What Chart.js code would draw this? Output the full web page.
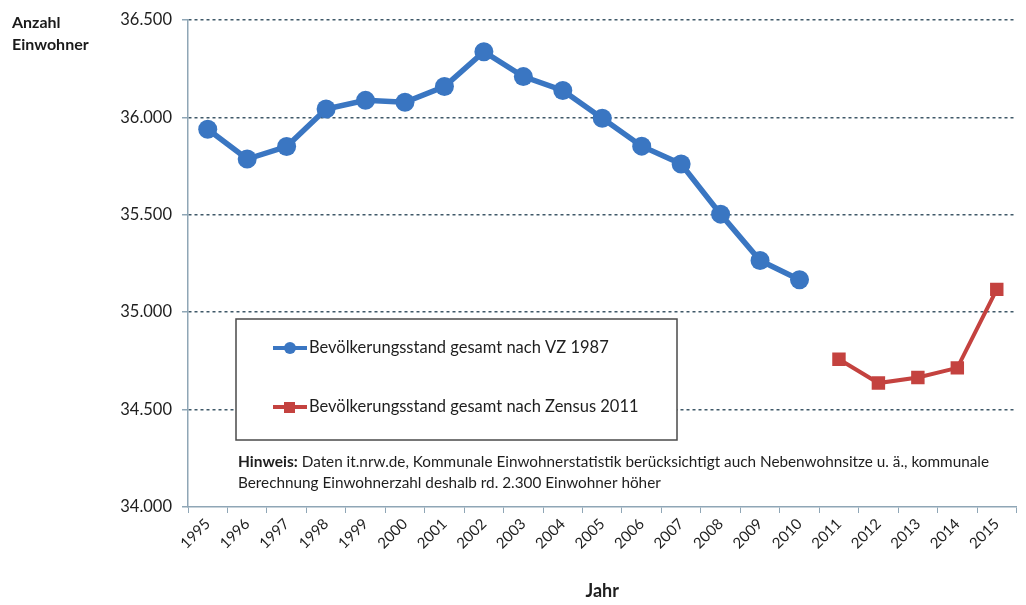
<!DOCTYPE html>
<html>
<head>
<meta charset="utf-8">
<script src="https://cdn.jsdelivr.net/npm/chart.js@4.4.1/dist/chart.umd.min.js"></script>
<style>
    html, body { margin: 0; padding: 0; background: #fff; }
    #wrap { position: relative; width: 1026px; height: 605px; }
    #yTitle {
        position: absolute; left: 12px; top: 11px;
        font: bold 16px Lato, sans-serif; color: #1a1a1a; line-height: 22px;
    }
</style>
</head>
<body>
<div id="wrap">
    <canvas id="chart" width="1026" height="605"></canvas>
    <div id="yTitle">Anzahl<br>Einwohner</div>
</div>
<script>
// Daten
const years = ['1995', '1996', '1997', '1998', '1999', '2000', '2001', '2002', '2003', '2004',
    '2005', '2006', '2007', '2008', '2009', '2010', '2011', '2012', '2013', '2014', '2015'];
const vz1987 = [35939, 35786, 35850, 36043, 36087, 36077, 36158, 36337, 36209, 36138,
    35995, 35852, 35760, 35503, 35265, 35166, null, null, null, null, null];
const zensus2011 = [null, null, null, null, null, null, null, null, null, null,
    null, null, null, null, null, null, 34758, 34636, 34665, 34714, 35117];
const yTicks = [34000, 34500, 35000, 35500, 36000, 36500];

const labelVZ = 'Bevölkerungsstand gesamt nach VZ 1987';
const labelZensus = 'Bevölkerungsstand gesamt nach Zensus 2011';
const noteBold = 'Hinweis:';
const noteLine1 = ' Daten it.nrw.de, Kommunale Einwohnerstatistik berücksichtigt auch Nebenwohnsitze u. ä., kommunale';
const noteLine2 = 'Berechnung Einwohnerzahl deshalb rd. 2.300 Einwohner höher';

const blue = '#3a76c2';
const red = '#c4423f';
const axisColor = '#8fa6b6';
const gridColor = '#3f5868';
const textColor = '#1e1e1e';

function fmt(v) {
    return String(v).replace(/\B(?=(\d{3})+(?!\d))/g, '.');
}

// Legende im Kasten + Hinweistext
const boxLegend = {
    id: 'boxLegend',
    afterDraw(chart) {
        const ctx = chart.ctx;
        ctx.save();
        ctx.fillStyle = '#fff';
        ctx.fillRect(236, 319, 441, 121);
        ctx.strokeStyle = '#4a4a4a';
        ctx.lineWidth = 1.5;
        ctx.strokeRect(236, 319, 441, 121);

        const rows = [
            { ds: chart.data.datasets[0], y: 348 },
            { ds: chart.data.datasets[1], y: 407 }
        ];
        rows.forEach(r => {
            ctx.strokeStyle = r.ds.borderColor;
            ctx.lineWidth = 4;
            ctx.beginPath();
            ctx.moveTo(273, r.y);
            ctx.lineTo(307, r.y);
            ctx.stroke();
            ctx.fillStyle = r.ds.backgroundColor;
            if (r.ds.pointStyle === 'rect') {
                ctx.fillRect(284, r.y - 5, 11, 11);
            } else {
                ctx.beginPath();
                ctx.arc(290, r.y, 6, 0, Math.PI * 2);
                ctx.fill();
            }
            ctx.fillStyle = textColor;
            ctx.font = '16.5px Lato, sans-serif';
            ctx.textBaseline = 'middle';
            ctx.fillText(r.ds.label, 309, r.y);
        });

        ctx.textBaseline = 'middle';
        ctx.fillStyle = textColor;
        ctx.font = 'bold 15.5px Lato, sans-serif';
        ctx.fillText(noteBold, 238, 462);
        const w = ctx.measureText(noteBold).width;
        ctx.font = '15.3px Lato, sans-serif';
        ctx.fillText(noteLine1, 238 + w, 462);
        ctx.fillText(noteLine2, 238, 483);
        ctx.restore();
    }
};

Chart.defaults.font.family = 'Lato, sans-serif';
Chart.defaults.color = textColor;

new Chart(document.getElementById('chart'), {
    type: 'line',
    data: {
        labels: years,
        datasets: [
            {
                label: labelVZ,
                data: vz1987,
                borderColor: blue,
                backgroundColor: blue,
                borderWidth: 5.5,
                pointStyle: 'circle',
                pointRadius: 9.5,
                pointBorderWidth: 0,
                spanGaps: false
            },
            {
                label: labelZensus,
                data: zensus2011,
                borderColor: red,
                backgroundColor: red,
                borderWidth: 4,
                pointStyle: 'rect',
                pointRadius: 9.5,
                pointBorderWidth: 0,
                spanGaps: false
            }
        ]
    },
    options: {
        responsive: false,
        animation: false,
        devicePixelRatio: 1,
        layout: { padding: { top: 17, right: 6, left: 0, bottom: 0 } },
        plugins: {
            legend: { display: false },
            tooltip: { enabled: false }
        },
        scales: {
            x: {
                offset: true,
                grid: {
                    offset: true,
                    drawOnChartArea: false,
                    tickLength: 6,
                    color: axisColor
                },
                border: { color: axisColor, width: 1.5 },
                ticks: {
                    minRotation: 45,
                    maxRotation: 45,
                    autoSkip: false,
                    font: { size: 15 },
                    color: textColor,
                    padding: 2
                },
                title: {
                    display: true,
                    text: 'Jahr',
                    font: { size: 18, weight: 'bold' },
                    color: textColor,
                    padding: { top: 4, bottom: 3 }
                },
                afterFit(s) { s.height = 98; }
            },
            y: {
                min: 34000,
                max: 36500,
                afterBuildTicks(s) { s.ticks = yTicks.map(v => ({ value: v })); },
                grid: {
                    color: ctx => ctx.tick && ctx.tick.value === 34000 ? 'rgba(0,0,0,0)' : gridColor,
                    lineWidth: 1.5,
                    tickLength: 6,
                    tickColor: axisColor,
                    tickBorderDash: []
                },
                border: { color: axisColor, width: 1.5, dash: [3, 3] },
                ticks: {
                    callback: v => fmt(v),
                    font: { size: 16.5 },
                    color: textColor,
                    padding: 10
                },
                afterFit(s) { s.width = 188; }
            }
        }
    },
    plugins: [boxLegend]
});
</script>
</body>
</html>
